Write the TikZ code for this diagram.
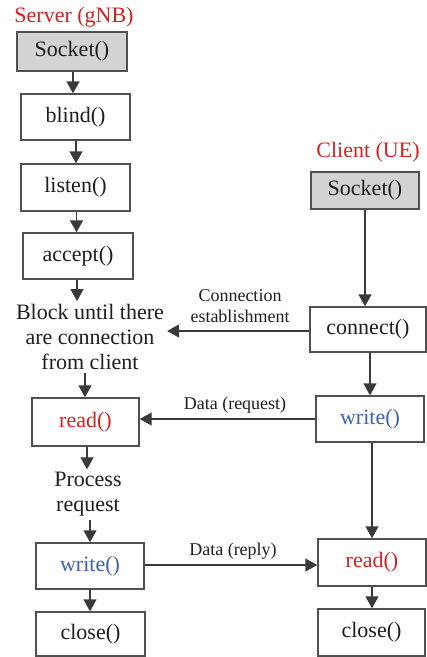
\documentclass[tikz,border=0pt]{standalone}
\usepackage{fontspec}
\setmainfont{Liberation Serif}
\usetikzlibrary{arrows.meta}
\definecolor{lc}{HTML}{3A3A3A}
\definecolor{bc}{HTML}{505050}
\definecolor{gfill}{HTML}{D3D3D3}
\definecolor{tred}{HTML}{D42020}
\definecolor{tblue}{HTML}{3B62AE}
\definecolor{ttxt}{HTML}{1E1E1E}
\begin{document}
\begin{tikzpicture}[x=1pt,y=-1pt,
  box/.style={draw=bc,line width=1.4pt,fill=white,inner sep=0pt,text=ttxt,
    font=\fontsize{22}{25}\selectfont},
  gbox/.style={box,fill=gfill},
  txt/.style={inner sep=3pt,align=center,text=ttxt,font=\fontsize{22}{25}\selectfont},
  lbl/.style={inner sep=0pt,align=center,text=ttxt,font=\fontsize{18}{21}\selectfont},
  ttl/.style={inner sep=0pt,text=tred,font=\fontsize{22}{25}\selectfont},
  arr/.style={draw=lc,line width=1.4pt,-{Triangle[length=12pt,width=13pt]}}]
\useasboundingbox (0,0) rectangle (427,657);
% titles
\node[ttl] (stitle) at (74,17) {Server (gNB)};
\node[ttl] (ctitle) at (368,152) {Client (UE)};
% server column
\node[gbox,minimum width=110pt,minimum height=39pt] (ssock) at (72,51.5) {Socket()};
\node[box,minimum width=109pt,minimum height=46pt] (blind) at (75.5,117) {blind()};
\node[box,minimum width=109pt,minimum height=47pt] (listen) at (75.5,187.5) {listen()};
\node[box,minimum width=110pt,minimum height=46pt] (accept) at (78,256) {accept()};
\node[txt] (block) at (90,337) {Block until there\\are connection\\from client};
\node[box,minimum width=107pt,minimum height=48pt,text=tred] (sread) at (85.5,422) {read()};
\node[txt] (proc) at (88,494.5) {Process\\request};
\node[box,minimum width=108pt,minimum height=46pt,text=tblue] (swrite) at (90,566) {write()};
\node[box,minimum width=109pt,minimum height=44pt] (sclose) at (90.5,634) {close()};
% client column
\node[gbox,minimum width=108pt,minimum height=37pt] (csock) at (365,190.5) {Socket()};
\node[box,minimum width=116pt,minimum height=45pt] (connect) at (368,329.5) {connect()};
\node[box,minimum width=108pt,minimum height=46pt,text=tblue] (cwrite) at (370,419) {write()};
\node[box,minimum width=108pt,minimum height=47pt,text=tred] (cread) at (372,562.5) {read()};
\node[box,minimum width=107pt,minimum height=47pt] (cclose) at (371.5,632.5) {close()};
% labels
\node[lbl] (lconn) at (240,306.5) {Connection\\establishment};
\node[lbl] (lreq) at (235,405) {Data (request)};
\node[lbl] (lrep) at (233,551) {Data (reply)};
% server vertical arrows
\draw[arr] (ssock.south) ++(1,0) coordinate (a1) -- (a1 |- blind.north);
\draw[arr] (blind.south) ++(0.5,0) coordinate (a2) -- (a2 |- listen.north);
\draw[arr] (listen.south) ++(1,0) coordinate (a3) -- (a3 |- accept.north);
\draw[arr] (accept.south) ++(-1,0) coordinate (a4) -- (a4 |- block.north);
\draw[arr] (block.south) ++(-5,0) coordinate (a5) -- (a5 |- sread.north);
\draw[arr] (sread.south) ++(1.5,0) coordinate (a6) -- (a6 |- proc.north);
\draw[arr] (proc.south) ++(2,0) coordinate (a7) -- (a7 |- swrite.north);
\draw[arr] (swrite.south) ++(0,0) coordinate (a8) -- (a8 |- sclose.north);
% client vertical arrows
\draw[arr] (csock.south) coordinate (b1) -- (b1 |- connect.north);
\draw[arr] (connect.south) ++(2,0) coordinate (b2) -- (b2 |- cwrite.north);
\draw[arr] (cwrite.south) ++(2,0) coordinate (b3) -- (b3 |- cread.north);
\draw[arr] (cread.south) coordinate (b4) -- (b4 |- cclose.north);
% horizontal arrows
\draw[arr] (connect.west) ++(0,1.5) coordinate (h1) -- (h1 -| block.east);
\draw[arr] (cwrite.west) coordinate (h2) -- (h2 -| sread.east);
\draw[arr] (swrite.east) ++(0,-1) coordinate (h3) -- (h3 -| cread.west);
\end{tikzpicture}
\end{document}
